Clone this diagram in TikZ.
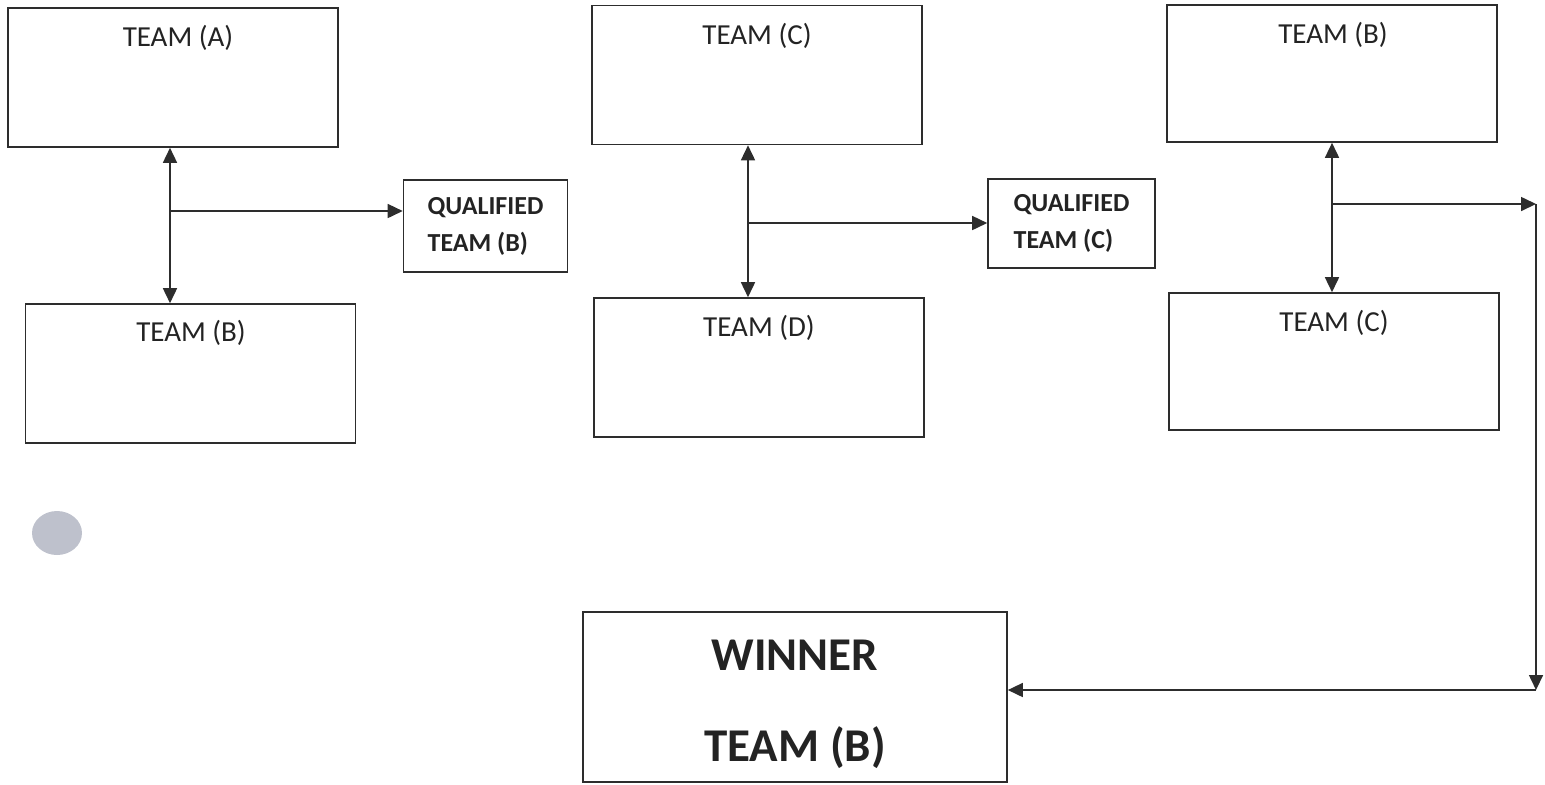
\documentclass[tikz,border=0pt]{standalone}
\usepackage{fontspec}
\setmainfont{Carlito}
\usetikzlibrary{arrows.meta}
\usetikzlibrary{positioning}
\usetikzlibrary{calc}

\definecolor{inkline}{RGB}{45,45,45}
\definecolor{inktext}{RGB}{35,35,35}
\definecolor{punchhole}{RGB}{190,193,204}

\tikzset{
    teambox/.style = {draw = inkline, line width = 0.8pt, rectangle, inner sep = 0pt,
                      minimum width = 165pt, minimum height = 69.5pt},
    qualbox/.style = {draw = inkline, line width = 0.8pt, rectangle, inner sep = 0pt,
                      minimum width = 82pt, minimum height = 46pt,
                      align = left, text = inktext,
                      font = \fontsize{13pt}{18.5pt}\selectfont\bfseries},
    teamlbl/.style = {inner sep = 0pt, text = inktext, font = \fontsize{14.5pt}{17pt}\selectfont},
    winlbl/.style  = {inner sep = 0pt, text = inktext, font = \fontsize{23.5pt}{27pt}\selectfont\bfseries},
    link/.style    = {draw = inkline, line width = 0.8pt},
}

\begin{document}
\begin{tikzpicture}
    [   x = 0.5pt, y = -0.5pt
    ,   > = {Triangle[length=7.5pt,width=7pt]}
    ]
    \useasboundingbox (0,0) rectangle (1545,784);

    % first pair
    \node[teambox] (ta) at (173,77.5) {};
    \node[teamlbl] (ta-l) at (178,38) {TEAM (A)};
    \node[teambox] (tb) at (190.5,373.5) {};
    \node[teamlbl] (tb-l) at (191,333) {TEAM (B)};
    \node[qualbox] (qb) at (485.5,226) {QUALIFIED\\TEAM (B)};

    % second pair
    \node[teambox] (tc) at (757,75) {};
    \node[teamlbl] (tc-l) at (757,36) {TEAM (C)};
    \node[teambox] (td) at (759,367.5) {};
    \node[teamlbl] (td-l) at (759,328) {TEAM (D)};
    \node[qualbox, minimum width = 83.5pt, minimum height = 44.5pt] (qc) at (1071.5,223.5) {QUALIFIED\\TEAM (C)};

    % final pair
    \node[teambox, minimum height = 68.5pt] (fb) at (1332,73.5) {};
    \node[teamlbl] (fb-l) at (1333,35) {TEAM (B)};
    \node[teambox, minimum height = 68.5pt] (fc) at (1334,361.5) {};
    \node[teamlbl] (fc-l) at (1334,323) {TEAM (C)};

    % winner
    \node[teambox, minimum width = 212pt, minimum height = 85pt] (win) at (795,697) {};
    \node[winlbl] (win-a) at (795,655) {WINNER};
    \node[winlbl] (win-b) at (795,748) {TEAM (B)};

    % junctions
    \coordinate (j1) at (170,211);
    \coordinate (j2) at (748,223);
    \coordinate (j3) at (1332,204);
    \coordinate (c1) at (1536,204);
    \coordinate (c2) at (1536,690);

    \draw[link,<->] (ta.south -| j1) -- (tb.north -| j1);
    \draw[link,->] (j1) -- (qb.west |- j1);
    \draw[link,<->] (tc.south -| j2) -- (td.north -| j2);
    \draw[link,->] (j2) -- (qc.west |- j2);
    \draw[link,<->] (fb.south -| j3) -- (fc.north -| j3);
    \draw[link,->] (j3) -- (c1);
    \draw[link,->] (c1) -- (c2);
    \draw[link,->] (c2) -- (win.east |- c2);

    % punched hole
    \fill[punchhole] (57,533) ellipse (12.5pt and 11pt);
\end{tikzpicture}
\end{document}
